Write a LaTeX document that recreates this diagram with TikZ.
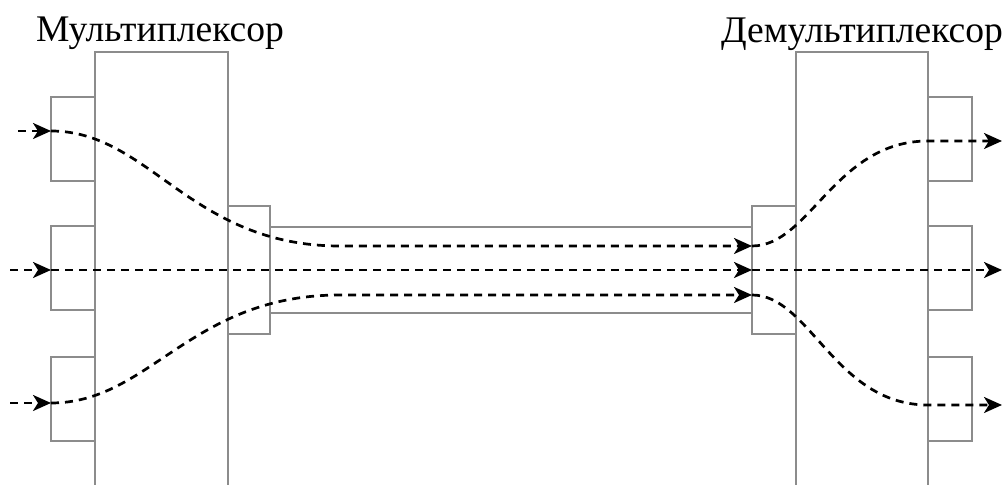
\documentclass[tikz,border=0pt]{standalone}
\usepackage{fontspec}
\setmainfont{Liberation Serif}
\usetikzlibrary{arrows.meta,positioning}
\definecolor{cbox}{HTML}{8C8C8C}

\begin{document}
\begin{tikzpicture}[
    x=0.5pt, y=-0.5pt,
    box/.style={draw=cbox, fill=white, line width=1pt, inner sep=0pt, outer sep=0pt},
    port/.style={box, minimum width=22pt, minimum height=42pt},
    jack/.style={box, minimum width=21pt, minimum height=64pt},
    unit/.style={box, minimum width=66.5pt, minimum height=220pt},
    title/.style={anchor=base, inner sep=0pt, font=\fontsize{18.8}{22}\selectfont},
    flow/.style={dash pattern=on 4pt off 3pt, line width=1.35pt,
                 -{Stealth[length=9pt,width=8pt,inset=2.5pt]}}
]
\useasboundingbox (0,0) rectangle (1008,485);
\clip (0,0) rectangle (1008,485);

% multiplexer side
\node[unit, anchor=north west] (mux) at (95,52) {};
\node[port, anchor=north west] (lp1) at (51,97) {};
\node[port, anchor=north west] (lp2) at (51,226) {};
\node[port, anchor=north west] (lp3) at (51,357) {};
\node[jack, anchor=north west] (mj) at (228,206) {};

% line between the two units
\node[box, minimum width=241pt, minimum height=43pt, anchor=west] (cable) at (mj.east) {};

% demultiplexer side
\node[jack, minimum width=22pt, anchor=west] (dj) at (cable.east) {};
\node[unit, minimum width=66pt, anchor=north west] (demux) at (dj.east |- mux.north) {};
\node[port, anchor=north west] (rp1) at (928,97) {};
\node[port, anchor=north west] (rp2) at (928,226) {};
\node[port, anchor=north west] (rp3) at (928,357) {};

\node[title] (tmux) at (160,42) {Мультиплексор};
\node[title] (tdemux) at (862,43) {Демультиплексор};

% channel ends
\coordinate (s1) at (18,131);
\coordinate (s2) at (10,270);
\coordinate (s3) at (10,403);
\coordinate (t1) at ([yshift=12pt]dj.west);
\coordinate (t3) at ([yshift=-12.5pt]dj.west);
\coordinate (o1) at (1002,141);
\coordinate (o2) at (1002,270);
\coordinate (o3) at (1002,405);

% inputs
\draw[flow] (s1) -- (lp1.west |- s1);
\draw[flow] (s2) -- (lp2.west |- s2);
\draw[flow] (s3) -- (lp3.west |- s3);

% through the line
\draw[flow] (lp1.west |- s1) .. controls +(99,0) and +(-150,0) .. ++(289,115) -- (t1);
\draw[flow] (lp2.west |- s2) -- (dj.west);
\draw[flow] (lp3.west |- s3) .. controls +(99,0) and +(-150,0) .. ++(289,-108) -- (t3);

% outputs
\draw[flow] (t1) .. controls +(58,0) and +(-93,0) .. (rp1.west |- o1) -- (o1);
\draw[flow] (dj.west) -- (o2);
\draw[flow] (t3) .. controls +(58,0) and +(-93,0) .. (rp3.west |- o3) -- (o3);
\end{tikzpicture}
\end{document}
